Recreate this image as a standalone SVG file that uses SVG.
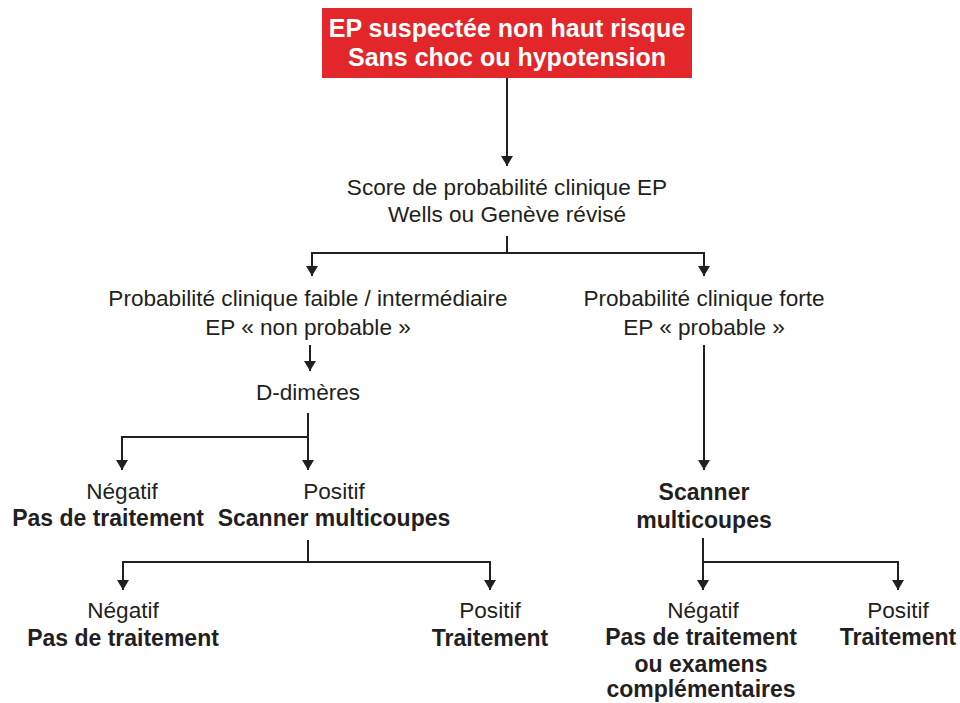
<svg xmlns="http://www.w3.org/2000/svg" width="960" height="703" viewBox="0 0 960 703">
<defs>
<style>
text{font-family:"Liberation Sans",Arial,sans-serif;font-size:22.6px;fill:#231f20;text-anchor:middle}
.b{font-weight:bold;font-size:23px}
.t{font-weight:bold;font-size:25px;fill:#ffffff}
.c{fill:none;stroke:#231f20;stroke-width:2}
.a{marker-end:url(#arr)}
</style>
<marker id="arr" viewBox="0 0 10 12" refX="10" refY="6" markerWidth="10" markerHeight="12" markerUnits="userSpaceOnUse" orient="auto">
<path d="M0,0 L10,6 L0,12 z" fill="#231f20"/>
</marker>
</defs>
<rect width="960" height="703" fill="#ffffff"/>
<g id="connectors">
<path class="c a" d="M507,78 V166"/>
<path class="c" d="M507,236 V253 M312,253 H704"/>
<path class="c a" d="M312,252 V276"/>
<path class="c a" d="M704,252 V276"/>
<path class="c a" d="M310,345 V371"/>
<path class="c" d="M308,413 V437 M122,437 H308"/>
<path class="c a" d="M122,436 V470"/>
<path class="c a" d="M308,436 V470"/>
<path class="c a" d="M704,345 V470"/>
<path class="c" d="M308,540 V562 M123,562 H490"/>
<path class="c a" d="M123,561 V590"/>
<path class="c a" d="M490,561 V590"/>
<path class="c" d="M703,538 V562 M703,562 H898"/>
<path class="c a" d="M703,561 V590"/>
<path class="c a" d="M898,561 V590"/>
</g>
<g id="start">
<rect x="322" y="8" width="370" height="70" fill="#e2262a"/>
<text class="t" x="507" y="37">EP suspectée non haut risque</text>
<text class="t" x="507" y="66">Sans choc ou hypotension</text>
</g>
<g id="score">
<text x="507" y="195">Score de probabilité clinique EP</text>
<text x="507" y="222">Wells ou Genève révisé</text>
</g>
<g id="faible">
<text x="308" y="306">Probabilité clinique faible / intermédiaire</text>
<text x="308" y="335">EP « non probable »</text>
</g>
<g id="forte">
<text x="704" y="306">Probabilité clinique forte</text>
<text x="704" y="335">EP « probable »</text>
</g>
<g id="ddimeres">
<text x="308" y="400">D-dimères</text>
</g>
<g id="dd-neg">
<text x="122" y="499">Négatif</text>
<text class="b" x="108" y="526">Pas de traitement</text>
</g>
<g id="dd-pos">
<text x="334" y="499">Positif</text>
<text class="b" x="334" y="526">Scanner multicoupes</text>
</g>
<g id="scan1-neg">
<text x="123" y="618">Négatif</text>
<text class="b" x="123" y="646">Pas de traitement</text>
</g>
<g id="scan1-pos">
<text x="490" y="618">Positif</text>
<text class="b" x="490" y="646">Traitement</text>
</g>
<g id="scan2">
<text class="b" x="704" y="500">Scanner</text>
<text class="b" x="704" y="528">multicoupes</text>
</g>
<g id="scan2-neg">
<text x="703" y="618">Négatif</text>
<text class="b" x="701" y="645">Pas de traitement</text>
<text class="b" x="701" y="672">ou examens</text>
<text class="b" x="701" y="697">complémentaires</text>
</g>
<g id="scan2-pos">
<text x="898" y="618">Positif</text>
<text class="b" x="898" y="645">Traitement</text>
</g>
</svg>
